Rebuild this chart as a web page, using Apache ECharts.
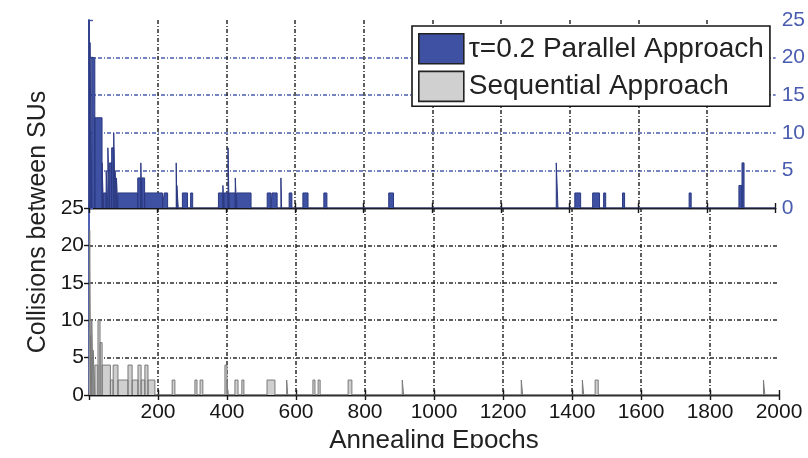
<!DOCTYPE html>
<html>
<head>
<meta charset="utf-8">
<script src="https://cdn.jsdelivr.net/npm/echarts@6/dist/echarts.min.js"></script>
<style>
  html, body { margin: 0; padding: 0; background: #fff; }
  #chart { width: 808px; height: 458px; }
</style>
</head>
<body>
<div id="chart"></div>
<script>
// Collision counts per annealing epoch, stored as runs: [from, to) epochs with a constant count.
const parFrom  = [0, 3, 8, 17, 38, 42, 50, 55, 60, 66, 72, 76, 80, 84, 142, 151, 154, 162, 219, 254, 256, 272, 296, 377, 390, 393, 405, 408, 426, 430, 519, 533, 559, 583, 623, 684, 873, 1361, 1415, 1467, 1499, 1554, 1748, 1893, 1902];
const parTo    = [3, 8, 17, 38, 42, 50, 55, 60, 66, 72, 76, 80, 84, 142, 151, 154, 162, 214, 229, 256, 260, 287, 302, 390, 393, 405, 408, 426, 430, 472, 530, 548, 561, 591, 638, 693, 887, 1366, 1432, 1487, 1505, 1560, 1754, 1902, 1908];
const parCount = [25, 22, 20, 12, 6, 2, 5, 8, 6, 8, 10, 5, 4, 2, 4, 6, 4, 2, 2, 6, 3, 2, 2, 2, 3, 2, 8, 2, 4, 2, 2, 2, 4, 2, 2, 2, 2, 6, 2, 2, 2, 2, 2, 3, 6];

const seqFrom  = [2, 5, 8, 12, 17, 26, 32, 38, 62, 70, 84, 113, 125, 142, 151, 162, 171, 241, 307, 322, 394, 400, 423, 443, 516, 573, 649, 664, 751, 908, 1253, 1430, 1467, 1955];
const seqTo    = [5, 8, 12, 17, 26, 32, 38, 62, 70, 84, 113, 125, 142, 151, 162, 171, 191, 249, 313, 330, 400, 403, 432, 449, 539, 576, 655, 670, 762, 912, 1257, 1434, 1476, 1959];
const seqCount = [22, 8, 10, 6, 4, 10, 7, 4, 2, 4, 2, 4, 2, 4, 2, 4, 2, 2, 2, 2, 4, 2, 2, 2, 2, 2, 2, 2, 2, 2, 2, 2, 2, 2];

const epochTicks = [0, 200, 400, 600, 800, 1000, 1200, 1400, 1600, 1800, 2000];
const countTicks = [0, 5, 10, 15, 20, 25];

const parName = 'τ=0.2 Parallel Approach';
const seqName = 'Sequential Approach';

// Turn runs into an outline that rises and falls at each run boundary.
function outline(from, to, count) {
  const pts = [[0, 0]];
  for (let i = 0; i < from.length; i++) {
    pts.push([from[i], 0], [from[i], count[i]], [to[i], count[i]], [to[i], 0]);
  }
  pts.push([epochTicks[epochTicks.length - 1], 0]);
  return pts;
}

const FONT = '"Liberation Sans", Arial, Helvetica, sans-serif';
const BLUE = '#4a5cb0';
const INK = '#161616';
const GRIDINK = '#2a2a2a';
const DASHDOT = [4, 2, 1, 2];
const xMin = epochTicks[0], xMax = epochTicks[epochTicks.length - 1], xStep = epochTicks[1] - epochTicks[0];
const yMin = countTicks[0], yMax = countTicks[countTicks.length - 1], yStep = countTicks[1] - countTicks[0];

const chart = echarts.init(document.getElementById('chart'), null, { renderer: 'canvas' });

function xAxisBase(grid, position, extra) {
  return Object.assign({
    gridIndex: grid, type: 'value', position: position,
    min: xMin, max: xMax, interval: xStep,
    axisLine: { show: true, lineStyle: { color: INK, width: 1.4 } },
    axisTick: { show: true, inside: true, length: 5, lineStyle: { color: INK, width: 1.4 } },
    axisLabel: { show: false },
    splitLine: { show: false }
  }, extra || {});
}

function yAxisBase(grid, position, extra) {
  return Object.assign({
    gridIndex: grid, type: 'value', position: position,
    min: yMin, max: yMax, interval: yStep,
    axisLine: { show: true, lineStyle: { color: BLUE, width: 1.6 } },
    axisTick: { show: false },
    axisLabel: { show: false },
    splitLine: { show: false }
  }, extra || {});
}

const vGrid = { show: true, showMinLine: false, showMaxLine: false, lineStyle: { color: GRIDINK, width: 1.5, type: DASHDOT } };

const option = {
  animation: false,
  backgroundColor: '#fff',
  grid: [
    { left: 89, top: 20, width: 690, height: 188 },
    { left: 89, top: 208, width: 690, height: 187 }
  ],
  xAxis: [
    xAxisBase(0, 'top', { splitLine: vGrid }),
    xAxisBase(0, 'bottom'),
    xAxisBase(1, 'bottom', {
      axisLabel: {
        show: true, fontSize: 21, color: INK, fontFamily: FONT, margin: 7,
        formatter: v => (v === xMin ? '' : String(v))
      },
      splitLine: vGrid
    }),
    xAxisBase(1, 'top')
  ],
  yAxis: [
    yAxisBase(0, 'right', {
      axisTick: { show: true, inside: false, length: 4, lineStyle: { color: BLUE, width: 1.4 } },
      axisLabel: { show: true, fontSize: 21, color: BLUE, fontFamily: FONT, margin: 6 },
      splitLine: { show: true, showMinLine: false, showMaxLine: false, lineStyle: { color: BLUE, width: 1.5, type: DASHDOT } }
    }),
    yAxisBase(0, 'left'),
    yAxisBase(1, 'left', {
      axisLabel: { show: true, fontSize: 21, color: INK, fontFamily: FONT, margin: 5 },
      splitLine: { show: true, showMinLine: false, showMaxLine: false, lineStyle: { color: GRIDINK, width: 1.5, type: DASHDOT } }
    }),
    yAxisBase(1, 'right', {
      axisTick: { show: true, inside: true, length: 5, lineStyle: { color: INK, width: 1.4 } }
    })
  ],
  legend: {
    left: 412, top: 26, orient: 'vertical',
    icon: 'rect', itemWidth: 45, itemHeight: 30, itemGap: 6,
    padding: [7, 6, 4, 6],
    backgroundColor: '#fff', borderColor: INK, borderWidth: 1.6, borderRadius: 0,
    textStyle: { fontSize: 28, color: '#222', fontFamily: FONT },
    data: [
      { name: parName, itemStyle: { color: '#3e51a3', borderColor: '#222', borderWidth: 1.6 } },
      { name: seqName, itemStyle: { color: '#d0d0d0', borderColor: '#222', borderWidth: 1.6 } }
    ]
  },
  graphic: [
    {
      type: 'text', x: 38, y: 222, rotation: Math.PI / 2,
      style: { text: 'Collisions between SUs', font: '25px ' + FONT, fill: '#222', align: 'center', verticalAlign: 'middle' }
    },
    {
      type: 'text', x: 434, y: 441,
      style: { text: 'Annealing Epochs', font: '26px ' + FONT, fill: '#222', align: 'center', verticalAlign: 'middle' }
    },
    {
      // bottom margin of the figure trims the lower edge of the axis title
      type: 'rect', z: 100, shape: { x: 0, y: 448, width: 808, height: 10 },
      style: { fill: '#fff' }
    }
  ],
  series: [
    {
      name: parName, type: 'line', xAxisIndex: 0, yAxisIndex: 0,
      data: outline(parFrom, parTo, parCount),
      showSymbol: false, symbol: 'none', silent: true,
      lineStyle: { color: '#2c3a82', width: 1 },
      itemStyle: { color: '#3e51a3' },
      areaStyle: { color: '#3e51a3', opacity: 1 }
    },
    {
      name: seqName, type: 'line', xAxisIndex: 2, yAxisIndex: 2,
      data: outline(seqFrom, seqTo, seqCount),
      showSymbol: false, symbol: 'none', silent: true,
      lineStyle: { color: '#7a7a7a', width: 1 },
      itemStyle: { color: '#d0d0d0' },
      areaStyle: { color: '#cfcfcf', opacity: 1 }
    }
  ]
};

chart.setOption(option);
</script>
</body>
</html>
